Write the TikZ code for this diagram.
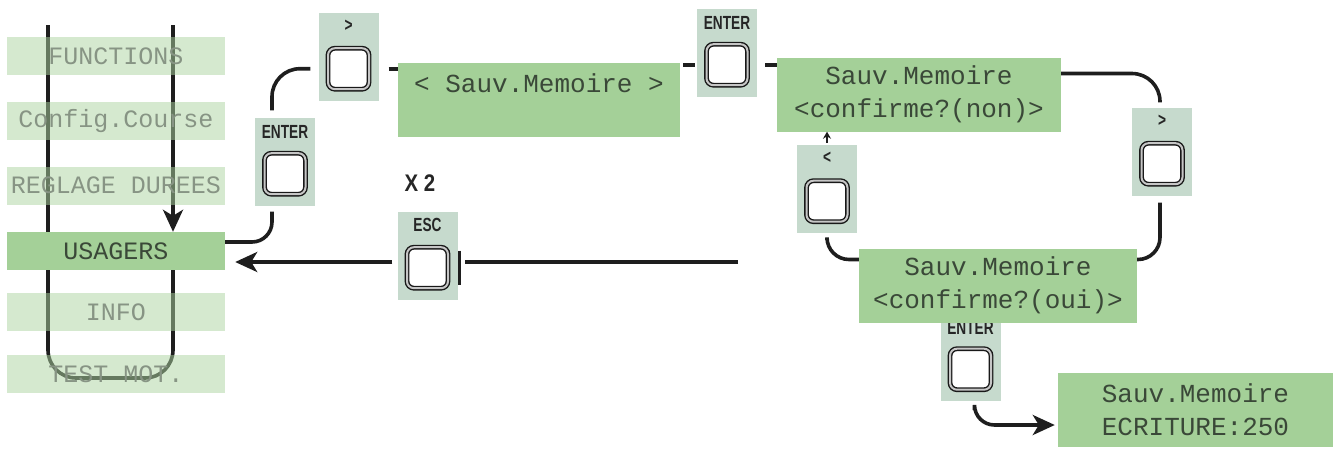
\documentclass[tikz,border=0pt]{standalone}
\usepackage{fontspec}
\setmainfont{Liberation Sans}
\newfontfamily\lcdfont{Liberation Mono}
\newfontfamily\keyfont[FakeStretch=0.72]{Liberation Sans}
\newfontfamily\countfont[FakeStretch=0.85]{Liberation Sans}
\usetikzlibrary{arrows.meta,backgrounds}
\definecolor{lcdgreen}{RGB}{164,208,152}
\definecolor{menugreen}{RGB}{172,212,160}
\definecolor{keygreen}{RGB}{198,218,205}
\definecolor{lcdtext}{RGB}{58,72,56}
\definecolor{menutext}{RGB}{135,148,132}
\definecolor{linegray}{RGB}{30,30,30}
\tikzset{
	lcd/.style={fill=lcdgreen, minimum height=74pt, inner sep=0pt, align=center, text=lcdtext, font={\lcdfont\fontsize{26}{33}\selectfont}},
	menuitem/.style={fill=menugreen, fill opacity=0.5, text opacity=1, minimum width=218pt, minimum height=38pt, inner sep=0pt, text=menutext, font={\lcdfont\fontsize{25}{28}\selectfont}},
	menuactive/.style={menuitem, fill=lcdgreen, fill opacity=1, text=lcdtext},
	keybg/.style={fill=keygreen, minimum width=60pt, minimum height=88pt, inner sep=0pt},
	keylbl/.style={font={\keyfont\bfseries\fontsize{19}{19}\selectfont}, text=black!85, inner sep=0pt},
	keysq/.style={draw=black!90, line width=1.4pt, double=gray!45, double distance=2pt, fill=white, rounded corners=7pt, minimum size=41pt, inner sep=0pt},
	conn/.style={draw=linegray, line width=3.6pt},
	flowarrow/.style={-{Stealth[length=22pt, width=20pt, inset=6pt]}}
}
\begin{document}
\begin{tikzpicture}[x=1pt, y=-1pt]
	\useasboundingbox (0,0) rectangle (1339,448);
	\node[menuitem] (functions) at (116,56) {FUNCTIONS};
	\node[menuitem] (config) at (116,121) {Config.Course};
	\node[menuitem] (reglage) at (116,185.5) {REGLAGE DUREES};
	\node[menuactive] (usagers) at (116,251) {USAGERS};
	\node[menuitem] (info) at (116,312) {INFO};
	\node[menuitem] (testmot) at (116,374) {TEST MOT.};
	\coordinate (loopL) at (48,25);
	\coordinate (loopR) at (173,25);
	\coordinate (loopB) at (173,378);
	\begin{scope}[on background layer]
		\draw[conn, rounded corners=28pt] (loopL) |- (loopB) -- (loopR |- usagers.south);
		\draw[conn, flowarrow] (loopR) -- (loopR |- usagers.north);
	\end{scope}
	\node[keybg] (bEnterL) at (285,161.5) {};
	\node[keylbl] (lEnterL) at ([yshift=-15pt]bEnterL.north) {ENTER};
	\node[keysq] (kEnterL) at ([yshift=32pt]bEnterL.south) {};
	\node[keybg] (bNext1) at (348.5,56.5) {};
	\node[keylbl] (lNext1) at ([yshift=-13pt]bNext1.north) {>};
	\node[keysq] (kNext1) at ([yshift=32pt]bNext1.south) {};
	\node[lcd, minimum width=282pt] (sauv) at (539,100) {< Sauv.Memoire >\\ \phantom{X}};
	\node[keybg] (bEnterT) at (727,52.5) {};
	\node[keylbl] (lEnterT) at ([yshift=-15pt]bEnterT.north) {ENTER};
	\node[keysq] (kEnterT) at ([yshift=32pt]bEnterT.south) {};
	\node[lcd, minimum width=284pt] (confnon) at (919,94.5) {Sauv.Memoire\\<confirme?(non)>};
	\node[keybg] (bNext2) at (1162,151.5) {};
	\node[keylbl] (lNext2) at ([yshift=-13pt]bNext2.north) {>};
	\node[keysq] (kNext2) at ([yshift=32pt]bNext2.south) {};
	\node[keybg] (bPrev) at (827,189) {};
	\node[keylbl] (lPrev) at ([yshift=-13pt]bPrev.north) {<};
	\node[keysq] (kPrev) at ([yshift=32pt]bPrev.south) {};
	\node[keybg] (bEnterB) at (970.5,357) {};
	\node[keylbl] (lEnterB) at ([yshift=-15pt]bEnterB.north) {ENTER};
	\node[keysq] (kEnterB) at ([yshift=32pt]bEnterB.south) {};
	\node[lcd, minimum width=278pt] (confoui) at (998,285.5) {Sauv.Memoire\\<confirme?(oui)>};
	\node[lcd, minimum width=275pt] (ecriture) at (1195.5,410) {Sauv.Memoire\\ECRITURE:250};
	\node[keybg] (bEsc) at (427.5,255.5) {};
	\node[keylbl] (lEsc) at ([yshift=-14pt]bEsc.north) {ESC};
	\node[keysq] (kEsc) at ([yshift=32pt]bEsc.south) {};
	\node[keylbl, font={\countfont\bfseries\fontsize{24}{24}\selectfont}] (xtwo) at (420,183) {X 2};
	\coordinate (escIn) at (738,262);
	\draw[conn, rounded corners=28pt, shorten <=7pt, shorten >=8pt] ([xshift=-13pt]bEnterL.north) |- (bNext1.west |- kNext1);
	\draw[conn, rounded corners=20pt, shorten <=6pt] ([xshift=-13pt]bEnterL.south) |- ([yshift=9pt]usagers.east);
	\draw[conn, shorten <=10pt] (bNext1.east |- kNext1) -- (sauv.west |- kNext1);
	\draw[conn, shorten <=3pt, shorten >=2pt] (sauv.east |- kEnterT) -- (bEnterT.west |- kEnterT);
	\draw[conn, shorten <=8pt] (bEnterT.east |- kEnterT) -- (confnon.west |- kEnterT);
	\draw[conn, rounded corners=28pt, shorten >=5pt] ([yshift=21pt]confnon.east) -| ([xshift=-2pt]bNext2.north);
	\draw[conn, rounded corners=22pt, shorten <=7pt] ([xshift=-2pt]bNext2.south) |- ([yshift=26pt]confoui.east);
	\draw[conn, rounded corners=22pt, shorten >=7pt] ([yshift=26pt]confoui.west) -| (bPrev.south);
	\draw[conn, line width=2.5pt, -{Stealth[length=7pt, width=8pt]}, shorten <=2pt] (bPrev.north) -- (bPrev.north |- confnon.south);
	\draw[conn, flowarrow, rounded corners=20pt, shorten <=9pt, shorten >=3pt] ([xshift=4pt]bEnterB.south) |- ([yshift=-15pt]ecriture.west);
	\draw[conn, shorten >=7pt] (escIn) -- (bEsc.east |- escIn);
	\draw[conn, flowarrow, shorten <=5pt, shorten >=10pt] (bEsc.west |- escIn) -- (usagers.east |- escIn);
	\draw[conn, line width=3pt] ([xshift=2pt, yshift=-4pt]kEsc.north -| bEsc.east) -- ([xshift=2pt, yshift=4pt]kEsc.south -| bEsc.east);
\end{tikzpicture}
\end{document}
